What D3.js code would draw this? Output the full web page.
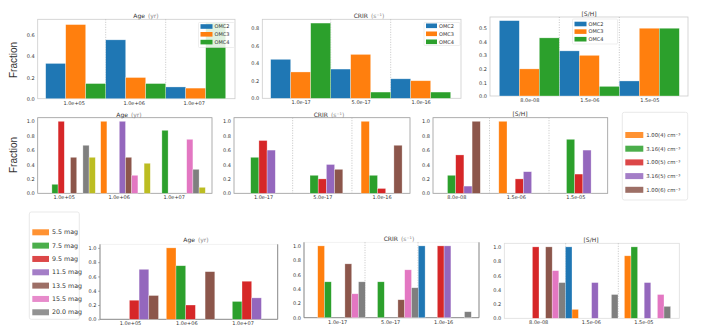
<!DOCTYPE html>
<html>
<head>
<meta charset="utf-8">
<script src="https://cdn.jsdelivr.net/npm/d3@7"></script>
<style>
  body { margin: 0; background: #fff; }
  svg { display: block; }
  .tick text { font-family: "DejaVu Sans", sans-serif; fill: #333; }
  .domain { display: none; }
</style>
</head>
<body>
<svg id="chart" width="717" height="333"></svg>
<script>
// ---- data ----
const ageGroups = ['1.0e+05', '1.0e+06', '1.0e+07'];
const crirGroups = ['1.0e-17', '5.0e-17', '1.0e-16'];
const shGroups = ['8.0e-08', '1.5e-06', '1.5e-05'];

const omcNames = ['OMC2', 'OMC3', 'OMC4'];
// one row per cloud, one value per group
const omcAge = [[0.333, 0.556, 0.111], [0.70, 0.20, 0.10], [0.143, 0.143, 0.714]];
const omcCrir = [[0.444, 0.333, 0.222], [0.30, 0.50, 0.20], [0.857, 0.071, 0.071]];
const omcSh = [[0.556, 0.333, 0.111], [0.20, 0.30, 0.50], [0.429, 0.071, 0.50]];

const densityNames = ['1.00(4) cm⁻³', '3.16(4) cm⁻³', '1.00(5) cm⁻³', '3.16(5) cm⁻³', '1.00(6) cm⁻³'];
// age panel carries 8 series (orange..olive)
const densAge = [[0, 1.0, 0], [0.125, 0, 0.875], [1.0, 0, 0], [0, 1.0, 0],
                 [0.5, 0.5, 0], [0, 0.25, 0.75], [0.667, 0, 0.333], [0.5, 0.417, 0.083]];
const densCrir = [[0, 0, 1.0], [0.5, 0.25, 0.25], [0.733, 0.2, 0.067], [0.6, 0.4, 0], [0, 0.333, 0.667]];
const densSh = [[0, 1.0, 0], [0.25, 0, 0.75], [0.533, 0.2, 0.267], [0.1, 0.3, 0.6], [1.0, 0, 0]];

const magNames = ['5.5 mag', '7.5 mag', '9.5 mag', '11.5 mag', '13.5 mag', '15.5 mag', '20.0 mag'];
const magAge = [[0, 1.0, 0], [0, 0.75, 0.25], [0.267, 0.2, 0.533], [0.7, 0, 0.3],
                [0.333, 0.667, 0], [0, 0, 0], [0, 0, 0]];
// 8th series (blue) shows up in the CRIR and [S/H] panels
const magCrir = [[1.0, 0, 0], [0.5, 0.5, 0], [0, 0, 1.0], [0, 0, 1.0],
                 [0.75, 0.25, 0], [0.333, 0.667, 0], [0.5, 0.417, 0.083], [0, 1.0, 0]];
const magSh = [[0, 0.125, 0.875], [0, 0, 1.0], [1.0, 0, 0], [0, 0.5, 0.5],
               [1.0, 0, 0], [0.667, 0, 0.333], [0.5, 0.333, 0.167], [1.0, 0, 0]];

const ticks1 = [0, 0.2, 0.4, 0.6];
const ticks2 = [0, 0.2, 0.4, 0.6, 0.8];
const ticks3 = [0, 0.1, 0.2, 0.3, 0.4, 0.5];
const ticksUnit = [0, 0.2, 0.4, 0.6, 0.8, 1.0];

// ---- style ----
const C = {blue: '#1f77b4', orange: '#ff7f0e', green: '#2ca02c', red: '#d62728', purple: '#9467bd',
           brown: '#8c564b', pink: '#e377c2', gray: '#7f7f7f', olive: '#bcbd22'};
const omcColors = [C.blue, C.orange, C.green];
const cycle = [C.orange, C.green, C.red, C.purple, C.brown, C.pink, C.gray, C.olive];
const magCycle = [C.orange, C.green, C.red, C.purple, C.brown, C.pink, C.gray, C.blue];

const svg = d3.select('#chart');

function panel(cfg) {
  const g = svg.append('g');
  const [fx0, fx1, fy0, fy1] = cfg.frame;
  const y = d3.scaleLinear().domain([0, cfg.yMax]).range([fy1, fy0]);
  const x = d3.scaleLinear().domain([0, 1]).range([cfg.first, cfg.first + cfg.step]);
  const w = cfg.slot / cfg.step;

  // frame
  g.append('rect').attr('x', fx0).attr('y', fy0).attr('width', fx1 - fx0).attr('height', fy1 - fy0)
    .attr('fill', 'none').attr('stroke', cfg.frameColor || '#ccc').attr('stroke-width', 0.8);
  if (cfg.darkSpines) {
    g.append('path').attr('d', `M${fx0},${fy0}V${fy1}H${fx1}V${fy0}`)
      .attr('fill', 'none').attr('stroke', '#8a8a8a').attr('stroke-width', 1);
  }

  // dotted separators between groups
  if (cfg.gridOff != null) {
    [0, 1].forEach(k => {
      const gx = x(0) + cfg.gridOff + k * cfg.step;
      g.append('line').attr('x1', gx).attr('x2', gx).attr('y1', fy0).attr('y2', fy1)
        .attr('stroke', '#b5b5b5').attr('stroke-width', 0.8).attr('stroke-dasharray', '1,1.5');
    });
  }

  // bars
  cfg.series.forEach((vals, i) => {
    g.selectAll(null).data(vals.map((v, gi) => ({v, gi})).filter(d => d.v > 0)).enter()
      .append('rect')
      .attr('x', d => x(d.gi + i * w))
      .attr('width', x(w) - x(0))
      .attr('y', d => y(d.v))
      .attr('height', d => y(0) - y(d.v))
      .attr('fill', cfg.colors[i])
      .attr('stroke', '#fff').attr('stroke-opacity', 0.5).attr('stroke-width', 0.6);
  });

  // axes
  const ya = g.append('g').attr('transform', `translate(${fx0},0)`)
    .call(d3.axisLeft(y).tickValues(cfg.yTicks).tickFormat(d3.format('.1f'))
      .tickSize(cfg.tickMarks ? 2 : 0).tickPadding(cfg.tickMarks ? 1.5 : 3));
  ya.selectAll('text').attr('font-size', 5);
  ya.selectAll('line').attr('stroke', '#666').attr('stroke-width', 0.5);

  const xa = g.append('g').attr('transform', `translate(0,${fy1})`)
    .call(d3.axisBottom(x).tickValues([0, 1, 2].map(k => k + cfg.tickOff / cfg.step))
      .tickFormat((d, k) => cfg.groups[k]).tickSize(0).tickPadding(2.5));
  xa.selectAll('text').attr('font-size', 5);

  // title
  const t = g.append('text').attr('x', cfg.titleX).attr('y', cfg.titleY).attr('text-anchor', 'middle')
    .attr('font-family', 'DejaVu Sans, sans-serif').attr('font-size', 6).attr('fill', '#333');
  t.append('tspan').text(cfg.title);
  if (cfg.unit) t.append('tspan').attr('fill', '#888').attr('dx', 3).text(cfg.unit);

  // small legend inside axes
  if (cfg.legend) {
    const L = cfg.legend;
    g.append('rect').attr('x', L.x).attr('y', L.y).attr('width', L.w).attr('height', L.h)
      .attr('fill', '#fff').attr('fill-opacity', 0.85).attr('stroke', '#ddd').attr('stroke-width', 0.5).attr('rx', 1);
    L.names.forEach((n, i) => {
      const cy = L.y + L.top + i * L.gap;
      g.append('rect').attr('x', L.x + 2).attr('y', cy - 2.3).attr('width', L.pw).attr('height', 4.6)
        .attr('fill', cfg.colors[i]);
      g.append('text').attr('x', L.x + 4 + L.pw).attr('y', cy + 1.8)
        .attr('font-family', 'DejaVu Sans, sans-serif').attr('font-size', 5).attr('fill', '#333').text(n);
    });
  }
}

// ---- row 1 ----
panel({frame: [37.7, 235, 19.3, 98.7], yMax: 0.75, yTicks: ticks1, groups: ageGroups,
  series: omcAge, colors: omcColors, first: 45.7, step: 60, slot: 20, tickOff: 28, gridOff: 60,
  title: 'Age', unit: '(yr)', titleX: 146, titleY: 17.5,
  legend: {x: 198.5, y: 22.5, w: 36, h: 25, top: 4, gap: 7.8, pw: 12, names: omcNames}});
panel({frame: [262.3, 461, 19.3, 98.3], yMax: 0.9, yTicks: ticks2, groups: crirGroups,
  series: omcCrir, colors: omcColors, first: 270.7, step: 60, slot: 20, tickOff: 30, gridOff: 60,
  title: 'CRIR', unit: '(s⁻¹)', titleX: 369, titleY: 17.5,
  legend: {x: 424, y: 22.5, w: 36, h: 23, top: 3.3, gap: 8, pw: 11, names: omcNames}});
panel({frame: [490, 688, 17, 96], yMax: 0.583, yTicks: ticks3, groups: shGroups,
  series: omcSh, colors: omcColors, first: 499.3, step: 60, slot: 20, tickOff: 30, gridOff: 60,
  title: '[S/H]', titleX: 589, titleY: 15.5,
  legend: {x: 572.5, y: 19, w: 45, h: 25, top: 5, gap: 7.6, pw: 12, names: omcNames}});

// ---- row 2 ----
panel({frame: [37.7, 212, 117.7, 193.3], yMax: 1.05, yTicks: ticksUnit, groups: ageGroups,
  series: densAge, colors: cycle, first: 45.7, step: 55, slot: 6.2, tickOff: 18,
  frameColor: '#999', title: 'Age', unit: '(yr)', titleX: 129, titleY: 116.5});
panel({frame: [234, 410, 117.7, 193.3], yMax: 1.05, yTicks: ticksUnit, groups: crirGroups,
  series: densCrir, colors: cycle, first: 242.5, step: 59.3, slot: 8.2, tickOff: 20.5, gridOff: 50.15,
  frameColor: '#999', title: 'CRIR', unit: '(s⁻¹)', titleX: 329, titleY: 116.5});
panel({frame: [433, 607.7, 117.7, 193.3], yMax: 1.05, yTicks: ticksUnit, groups: shGroups,
  series: densSh, colors: cycle, first: 439.3, step: 59.5, slot: 8.2, tickOff: 17, gridOff: 50.2,
  frameColor: '#999', title: '[S/H]', titleX: 520, titleY: 116});

// ---- row 3 ----
panel({frame: [100, 277.7, 244.3, 319.3], yMax: 1.05, yTicks: ticksUnit, groups: ageGroups,
  series: magAge, colors: magCycle, first: 110, step: 56.3, slot: 9.7, tickOff: 20,
  frameColor: '#eee', darkSpines: true, tickMarks: true, title: 'Age', unit: '(yr)', titleX: 196, titleY: 242.3});
panel({frame: [304, 479, 242.3, 317.7], yMax: 1.05, yTicks: ticksUnit, groups: crirGroups,
  series: magCrir, colors: magCycle, first: 317.7, step: 53, slot: 6.8, tickOff: 19.5, gridOff: 47.3,
  frameColor: '#eee', darkSpines: true, title: 'CRIR', unit: '(s⁻¹)', titleX: 399, titleY: 240.7});
panel({frame: [504.3, 679.3, 243.3, 318.3], yMax: 1.05, yTicks: ticksUnit, groups: shGroups,
  series: magSh, colors: magCycle, first: 519.2, step: 52.6, slot: 6.6, tickOff: 19, gridOff: 46.5,
  frameColor: '#ddd', title: '[S/H]', titleX: 591, titleY: 241.7});

// ---- y labels ----
[60, 155].forEach(cy => {
  svg.append('text').attr('transform', `translate(17,${cy}) rotate(-90)`).attr('text-anchor', 'middle')
    .attr('font-family', 'Liberation Sans, Arial, sans-serif').attr('font-size', 10).attr('fill', '#333')
    .text('Fraction');
});

// ---- figure legends ----
function figLegend(names, colors, box, first, gap, pw, fs) {
  const g = svg.append('g');
  g.append('rect').attr('x', box[0]).attr('y', box[1]).attr('width', box[2]).attr('height', box[3])
    .attr('fill', '#fff').attr('stroke', '#e3e3e3').attr('stroke-width', 0.8).attr('rx', 2);
  names.forEach((n, i) => {
    const cy = first + i * gap;
    g.append('rect').attr('x', box[0] + 3).attr('y', cy - 3).attr('width', pw).attr('height', 6)
      .attr('fill', colors[i]).attr('fill-opacity', 0.85);
    g.append('text').attr('x', box[0] + 6 + pw).attr('y', cy + 2)
      .attr('font-family', 'DejaVu Sans, sans-serif').attr('font-size', fs).attr('fill', '#333').text(n);
  });
}
figLegend(densityNames, cycle, [622.3, 112.3, 65.4, 87.7], 135, 13.7, 18, 5.3);
figLegend(magNames, magCycle, [29.3, 212, 50, 107.3], 232.3, 13.33, 16.7, 6.3);
</script>
</body>
</html>
